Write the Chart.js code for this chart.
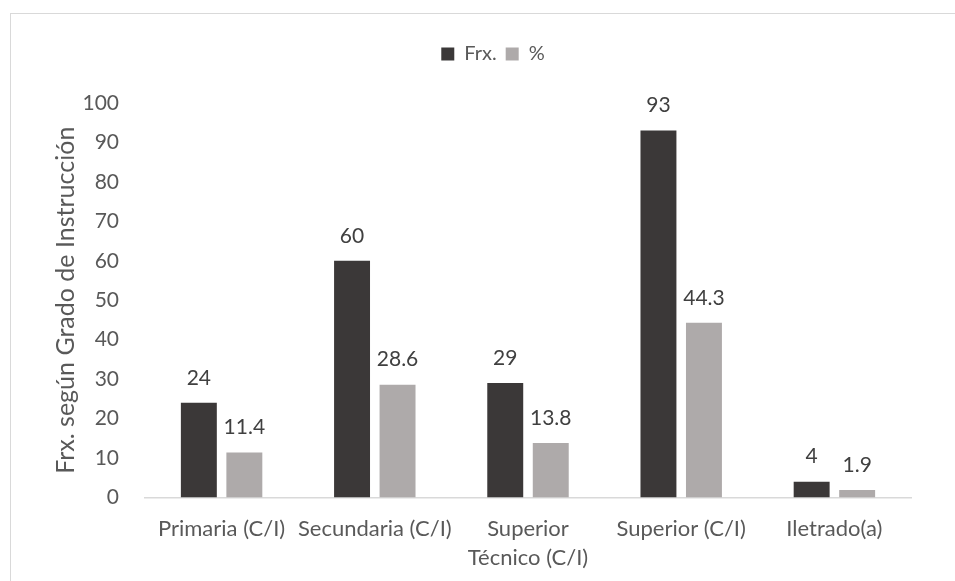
<!DOCTYPE html>
<html>
<head>
<meta charset="utf-8">
<script src="https://cdn.jsdelivr.net/npm/chart.js@4.4.1/dist/chart.umd.min.js"></script>
<style>
  html, body { margin: 0; padding: 0; background: #ffffff; }
  #wrap { width: 955px; height: 581px; position: relative; }
</style>
</head>
<body>
<div id="wrap"><canvas id="c" width="955" height="581"></canvas></div>
<script>
// Grado de instrucción: frecuencias y porcentajes
const categories = ['Primaria (C/I)', 'Secundaria (C/I)', ['Superior', 'Técnico (C/I)'], 'Superior (C/I)', 'Iletrado(a)'];
const frecuencia = [24, 60, 29, 93, 4];
const porcentaje = [11.4, 28.6, 13.8, 44.3, 1.9];
const seriesNames = ['Frx.', '%'];
const yAxisTitle = 'Frx. según Grado de Instrucción';

const FONT = 'Lato, "Open Sans", sans-serif';
const TEXT = '#595959';

// white background and thin outer frame
const framePlugin = {
  id: 'frame',
  beforeDraw(chart) {
    const ctx = chart.ctx;
    ctx.save();
    ctx.fillStyle = '#ffffff';
    ctx.fillRect(0, 0, chart.width, chart.height);
    ctx.strokeStyle = '#d9d9d9';
    ctx.lineWidth = 1;
    ctx.strokeRect(10.5, 13.5, 2000, 2000);
    ctx.restore();
  }
};

// give the legend extra room below it and nudge it right
const legendSpacing = {
  id: 'legendSpacing',
  beforeLayout(chart) {
    const lg = chart.legend;
    if (lg && !lg._spaced) {
      const fit = lg.fit;
      lg.fit = function () { fit.call(this); this.height = 68; };
      lg._spaced = true;
    }
  },
  afterLayout(chart) {
    const lg = chart.legend;
    if (lg) { lg.left += 12; lg.right += 12; }
  }
};

// value labels above each bar
const valueLabels = {
  id: 'valueLabels',
  afterDatasetsDraw(chart) {
    const ctx = chart.ctx;
    ctx.save();
    ctx.font = '21px ' + FONT;
    ctx.fillStyle = '#404040';
    ctx.textAlign = 'center';
    ctx.textBaseline = 'middle';
    chart.data.datasets.forEach((ds, i) => {
      chart.getDatasetMeta(i).data.forEach((bar, j) => {
        ctx.fillText(String(ds.data[j]), bar.x, bar.y - 25);
      });
    });
    ctx.restore();
  }
};

new Chart(document.getElementById('c'), {
  type: 'bar',
  data: {
    labels: categories,
    datasets: [
      { label: seriesNames[0], data: frecuencia, backgroundColor: '#3b3838' },
      { label: seriesNames[1], data: porcentaje, backgroundColor: '#aeaaaa' }
    ]
  },
  options: {
    responsive: false,
    animation: false,
    devicePixelRatio: 1,
    layout: { padding: { left: 51, right: 44, top: 35, bottom: 0 } },
    datasets: { bar: { categoryPercentage: 0.594, barPercentage: 0.79 } },
    plugins: {
      legend: {
        position: 'top',
        labels: {
          boxWidth: 13, boxHeight: 13, padding: 9,
          color: TEXT, font: { family: FONT, size: 20 }
        }
      },
      tooltip: { enabled: false }
    },
    scales: {
      x: {
        grid: { color: 'transparent', drawTicks: false },
        border: { display: true, color: '#d9d9d9', width: 1.5 },
        ticks: { color: TEXT, font: { family: FONT, size: 22, lineHeight: 1.32 }, padding: 17, maxRotation: 0, autoSkip: false },
        afterFit(scale) { scale.height = 83.5; }
      },
      y: {
        min: 0, max: 100,
        grid: { display: false, drawTicks: false },
        border: { display: false },
        ticks: { stepSize: 10, color: TEXT, font: { family: FONT, size: 21 }, padding: 26 },
        title: { display: true, text: yAxisTitle, color: TEXT, font: { family: FONT, size: 25 }, padding: { top: 0, bottom: 0 } },
        afterFit(scale) { scale.width = 94; }
      }
    }
  },
  plugins: [framePlugin, legendSpacing, valueLabels]
});
</script>
</body>
</html>
